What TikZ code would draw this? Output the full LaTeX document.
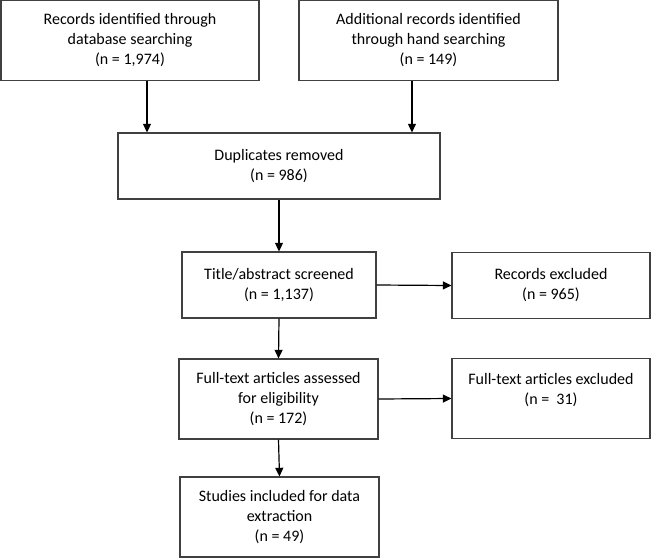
\documentclass[tikz,border=0pt]{standalone}
\usepackage{fontspec}
\setmainfont{Carlito}
\usetikzlibrary{arrows.meta}

\begin{document}
\begin{tikzpicture}[x=0.75pt,y=-0.75pt,
  every node/.style={font=\fontsize{12}{15}\selectfont},
  box/.style={draw=black!75,line width=0.8pt,align=center,inner sep=0pt},
  arr/.style={line width=0.9pt,-{Triangle[length=6.5pt,width=6pt]}}]
  \useasboundingbox (0,0) rectangle (651,558);
  % Identification
  \node[box,minimum width=193.5pt,minimum height=59.5pt] (records) at (130,40.5)
    {Records identified through\\database searching\\(n = 1,974)};
  \node[box,minimum width=194.25pt,minimum height=59.5pt] (handsearch) at (428.5,40.5)
    {Additional records identified\\through hand searching\\(n = 149)};
  \node[box,minimum width=241.5pt,minimum height=49.5pt] (dupl) at (279,166)
    {Duplicates removed\\(n = 986)};
  % Screening
  \node[box,minimum width=145.5pt,minimum height=49.5pt] (screen) at (279,285)
    {Title/abstract screened\\(n = 1,137)};
  \node[box,minimum width=148.5pt,minimum height=49.5pt] (excl) at (551,285.5)
    {Records excluded\\(n = 965)};
  % Eligibility
  \node[box,minimum width=149.25pt,minimum height=60pt] (fulltext) at (278.5,399)
    {Full-text articles assessed\\for eligibility\\(n = 172)};
  \node[box,minimum width=148.5pt,minimum height=60pt] (ftexcl) at (551,398.5)
    {Full-text articles excluded\\(n =\ \ 31)\\\mbox{}};
  % Included
  \node[box,minimum width=149.25pt,minimum height=60pt] (included) at (279.5,517)
    {Studies included for data\\extraction\\(n = 49)};
  % Arrows
  \draw[arr] ([xshift=12.75pt]records.south) -- ([xshift=12.75pt]records.south |- dupl.north);
  \draw[arr] ([xshift=-12.4pt]handsearch.south) -- ([xshift=-12.4pt]handsearch.south |- dupl.north);
  \draw[arr] (dupl.south) -- (screen.north);
  \draw[arr] (screen.east) -- (excl.west);
  \draw[arr] (screen.south) -- (fulltext.north);
  \draw[arr] (fulltext.east) -- (ftexcl.west);
  \draw[arr] (fulltext.south) -- (included.north);
\end{tikzpicture}
\end{document}
